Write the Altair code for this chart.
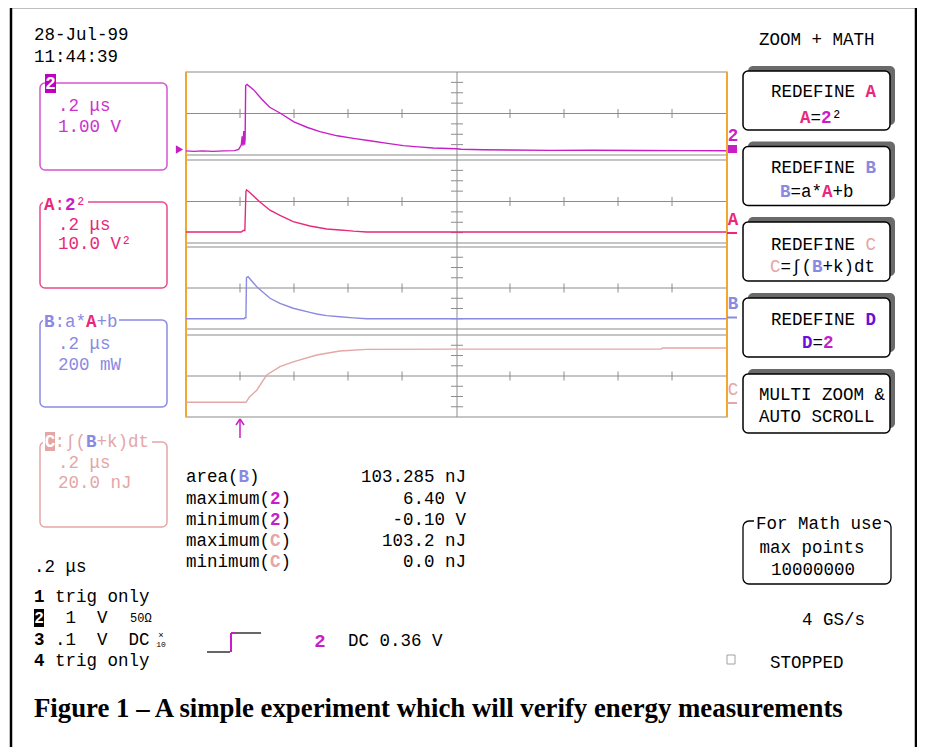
import altair as alt
import pandas as pd

# ---------------- data ----------------
# channel 2 (volts) vs time (µs)
ch2_t = [0.00, 0.03, 0.06, 0.10, 0.14, 0.18, 0.195, 0.200, 0.205, 0.208, 0.211, 0.214, 0.217, 0.219,
         0.221, 0.226, 0.25, 0.28, 0.31, 0.348, 0.40, 0.45, 0.496, 0.56, 0.62, 0.681, 0.74, 0.805,
         0.86, 0.916, 1.00, 1.02, 1.10, 1.20, 1.35, 1.50, 1.70, 1.85, 2.00]
ch2_v = [0.00, -0.05, 0.00, -0.05, 0.00, 0.02, 0.15, 0.35, 0.60, 1.40, 0.50, 1.90, 0.60, 1.20,
         6.30, 6.40, 5.90, 5.00, 4.20, 3.65, 2.80, 2.25, 1.85, 1.45, 1.20, 0.98, 0.75, 0.50,
         0.38, 0.27, 0.20, 0.15, 0.10, 0.08, 0.05, 0.06, 0.04, 0.02, 0.01]
# A = 2^2 (V^2)
a_t = [0.00, 0.205, 0.212, 0.218, 0.222, 0.224, 0.232, 0.274, 0.311, 0.348, 0.397, 0.459, 0.521,
       0.570, 0.600, 0.620, 0.669, 2.00]
a_v = [0.0, 0.0, 1.5, 1.5, 39.0, 40.5, 39.0, 29.0, 21.0, 16.0, 10.0, 5.8, 2.9,
       1.9, 1.3, 0.8, 0.0, 0.0]
# B = a*A+b (mW)
b_t = [0.00, 0.215, 0.218, 0.222, 0.224, 0.230, 0.262, 0.311, 0.348, 0.397, 0.459, 0.484, 0.521,
       0.570, 0.620, 0.669, 2.00]
b_v = [0, 0, 20, 20, 800, 820, 625, 400, 300, 205, 125, 93, 60, 40, 18, 0, 0]
# C = integral of (B+k) dt (nJ)
c_t = [0.00, 0.222, 0.235, 0.262, 0.299, 0.348, 0.397, 0.484, 0.570, 0.669, 1.00, 1.76, 1.765, 2.00]
c_v = [0, 0, 10, 23, 52, 68, 77, 90, 97.5, 100.7, 101.2, 101.2, 103.2, 103.2]

meas_prefix = ["area(", "maximum(", "minimum(", "maximum(", "minimum("]
meas_symbol = ["B", "2", "2", "C", "C"]
meas_values = ["103.285 nJ", "6.40 V", "-0.10 V", "103.2 nJ", "0.0 nJ"]

# ---------------- styling / layout ----------------
OFF = 8
FS = 17.5
CW = 0.6 * FS
MONO = "Liberation Mono"
SERIF = "Liberation Serif"
NBSP = "\u00a0"

BLACK = "#000000"
WHITE = "#ffffff"
MAG = "#c81ec8"
MAG_T = "#cc33cc"
MAG_BOX = "#d455d4"
PINK = "#e8287a"
PINK_BOX = "#ea4a8e"
LAV = "#8a8ae2"
LPINK = "#e4a6a6"
PURPLE = "#6a10d8"
ORANGE = "#f0a830"
GRAY = "#8c8c8c"
SYMCOL = {"B": LAV, "2": MAG, "C": LPINK}

texts, rects, rules = [], [], []


def T(s, x, y, c=BLACK, fs=FS, bold=False, align="left", font=MONO):
    if font == MONO:
        s = s.replace(" ", NBSP)
    texts.append(dict(s=s, x=x - OFF, y=y - OFF, c=c, fs=fs,
                      b="bold" if bold else "normal", a=align, f=font))


def R(x1, y1, x2, y2, fill="transparent", stroke="transparent", sw=0, r=0):
    rects.append(dict(x=x1 - OFF, y=y1 - OFF, x2=x2 - OFF, y2=y2 - OFF,
                      fill=fill, stroke=stroke, sw=sw, r=r))


def L(x1, y1, x2, y2, c=GRAY, w=1.0):
    rules.append(dict(x=x1 - OFF, y=y1 - OFF, x2=x2 - OFF, y2=y2 - OFF, c=c, w=w))


def seg_line(parts, x, y, fs=FS):
    cw = 0.6 * fs
    i = 0
    for s, c, b in parts:
        lead = len(s) - len(s.lstrip(" "))
        core = s.strip(" ")
        if core:
            T(core, x + (i + lead) * cw, y, c=c, fs=fs, bold=b)
        i += len(s)


# outer frame
L(11, 7, 11, 760, BLACK, 2.5)
L(11, 7, 917, 7, BLACK, 2.5)
L(916, 7, 916, 760, BLACK, 2.5)

# grid
PANELS = [(72, 155), (160, 243), (247, 329), (335, 417)]
GX0, GX1, GXC = 186, 727, 457
for top, bot in PANELS:
    cy = (top + bot) / 2
    R(GX0, top, GX1, bot, stroke=GRAY, sw=1.2)
    L(GX0, cy, GX1, cy)
    for k in range(1, 10):
        if k == 5:
            continue
        xk = GX0 + k * 54
        L(xk, cy - 4.5, xk, cy + 4.5)
    h = (bot - top) / 8
    for k in (1, 2, 3):
        for sg in (-1, 1):
            L(GXC - 6, cy + sg * k * h, GXC + 6, cy + sg * k * h)
L(GXC, 72, GXC, 417)
L(GX0, 72, GX0, 417, ORANGE, 2)
L(GX1, 72, GX1, 417, ORANGE, 2)

# top-left date
T("28-Jul-99", 34, 35)
T("11:44:39", 34, 57)
T("ZOOM + MATH", 759, 40)

# left trace-info boxes
R(40, 83, 167, 170, stroke=MAG_BOX, sw=1.5, r=5)
R(45, 74, 56, 93, fill="#c000c0")
T("2", 50.5, 83.5, WHITE, bold=True, align="center")
T(".2 μs", 58, 106, MAG_T)
T("1.00 V", 58, 127, MAG_T)

R(40, 202, 167, 288, stroke=PINK_BOX, sw=1.5, r=5)
R(43, 195, 88, 210, fill=WHITE)
seg_line([("A", PINK, True), (":", PINK, False), ("2", MAG, True), ("²", PINK, False)], 44, 205)
T(".2 μs", 58, 225, PINK)
T("10.0 V²", 58, 244, PINK)

R(40, 320, 167, 407, stroke=LAV, sw=1.5, r=5)
R(43, 313, 119, 330, fill=WHITE)
seg_line([("B", LAV, True), (":a*", LAV, False), ("A", PINK, True), ("+b", LAV, False)], 44, 322)
T(".2 μs", 58, 344, LAV)
T("200 mW", 58, 365, LAV)

R(40, 442, 167, 527, stroke=LPINK, sw=1.5, r=5)
R(43, 433, 152, 451, fill=WHITE)
R(45, 432, 55, 451, fill=LPINK)
T("C", 50, 442, WHITE, bold=True, align="center")
seg_line([(":∫(", LPINK, False), ("B", LAV, True), ("+k)dt", LPINK, False)], 44 + CW, 442)
T(".2 μs", 58, 463, LPINK)
T("20.0 nJ", 58, 483, LPINK)

# right channel markers
T("2", 733, 136, MAG, bold=True, align="center")
R(728, 145, 737, 153, fill=MAG)
T("A", 733, 220, PINK, bold=True, align="center")
L(727, 233, 737, 233, PINK, 2)
T("B", 733, 304, LAV, bold=True, align="center")
L(727, 317.5, 737, 317.5, LAV, 2)
T("C", 733, 390, LPINK, align="center")
L(727, 403, 737, 403, LPINK, 2)

# trigger arrow
L(240, 419, 240, 438, MAG, 1.5)
L(240, 419, 236, 425, MAG, 1.5)
L(240, 419, 244, 425, MAG, 1.5)

# buttons
for ft in [71, 146.5, 222, 298, 374]:
    R(748, ft - 5, 895, ft + 54, fill="#6a6a6a", r=5)
    R(743, ft, 890, ft + 59, fill=WHITE, stroke=BLACK, sw=1.5, r=5)
seg_line([("REDEFINE ", BLACK, False), ("A", PINK, True)], 771, 92)
seg_line([("A", PINK, True), ("=", BLACK, False), ("2", MAG, True), ("²", BLACK, False)], 800, 117.5)
seg_line([("REDEFINE ", BLACK, False), ("B", LAV, True)], 771, 168)
seg_line([("B", LAV, True), ("=a*", BLACK, False), ("A", PINK, True), ("+b", BLACK, False)], 780, 191.5)
seg_line([("REDEFINE ", BLACK, False), ("C", LPINK, False)], 771, 245)
seg_line([("C", LPINK, False), ("=∫(", BLACK, False), ("B", LAV, True), ("+k)dt", BLACK, False)], 770, 267)
seg_line([("REDEFINE ", BLACK, False), ("D", PURPLE, True)], 771, 320)
seg_line([("D", PURPLE, True), ("=", BLACK, False), ("2", MAG, True)], 802, 343)
T("MULTI ZOOM &", 759, 395)
T("AUTO SCROLL", 759, 417)

# measurements
for i, y in enumerate([477, 499, 520, 541, 562]):
    seg_line([(meas_prefix[i], BLACK, False), (meas_symbol[i], SYMCOL[meas_symbol[i]], True),
              (")", BLACK, False)], 186, y)
    T(meas_values[i], 466, y, align="right")

# bottom-left status
T(".2 μs", 34, 567)
seg_line([("1", BLACK, True), (" trig only", BLACK, False)], 34, 597)
R(34, 609, 44, 627, fill=BLACK)
T("2", 39, 618, WHITE, fs=16, bold=True, align="center")
seg_line([("   1  V", BLACK, False)], 34, 618)
T("50Ω", 130, 618, fs=12)
seg_line([("3", BLACK, True), (" .1  V  DC", BLACK, False)], 34, 640)
T("×", 161, 635, fs=9, align="center")
T("10", 161, 645, fs=8, align="center")
seg_line([("4", BLACK, True), (" trig only", BLACK, False)], 34, 661)

# trigger slope symbol
L(207, 652, 230, 652, BLACK, 1.2)
L(231, 652, 231, 633, MAG, 2)
L(231, 633, 236, 633, MAG, 2)
L(236, 633, 261, 633, BLACK, 1.2)
T("2", 320, 641, MAG, fs=19, bold=True, align="center")
T("DC 0.36 V", 348, 641)

# bottom-right
R(743, 521, 891, 584, stroke=BLACK, sw=1.3, r=6)
R(754, 514, 884, 531, fill=WHITE)
T("For Math use", 756, 524)
T("max points", 812, 548, align="center")
T("10000000", 813, 570, align="center")
T("4 GS/s", 802, 620)
R(727, 655, 735, 664, stroke="#a0a0a0", sw=1)
T("STOPPED", 770, 663)

# caption
T("Figure 1 – A simple experiment which will verify energy measurements", 34, 709,
  BLACK, fs=26.8, bold=True, font=SERIF)

# ---------------- build layers ----------------
layers = []
runs = []
for r in rects:
    if runs and runs[-1][0] == r["r"]:
        runs[-1][1].append(r)
    else:
        runs.append((r["r"], [r]))
for rad, items in runs:
    layers.append(alt.Chart(pd.DataFrame(items)).mark_rect(cornerRadius=rad).encode(
        x=alt.X("x:Q", scale=None, axis=None), x2="x2:Q",
        y=alt.Y("y:Q", scale=None, axis=None), y2="y2:Q",
        fill=alt.Fill("fill:N", scale=None), stroke=alt.Stroke("stroke:N", scale=None),
        strokeWidth=alt.StrokeWidth("sw:Q", scale=None)))

layers.append(alt.Chart(pd.DataFrame(rules)).mark_rule().encode(
    x=alt.X("x:Q", scale=None, axis=None), x2="x2:Q",
    y=alt.Y("y:Q", scale=None, axis=None), y2="y2:Q",
    color=alt.Color("c:N", scale=None), strokeWidth=alt.StrokeWidth("w:Q", scale=None)))

layers.append(alt.Chart(pd.DataFrame({"k": [0]})).mark_point(
    shape="triangle-right", filled=True, size=70, color=MAG, opacity=1).encode(
    x=alt.value(179.5 - OFF), y=alt.value(149.5 - OFF)))


def trace(t, v, dom, top, bot, color, name):
    df = pd.DataFrame({"t": t, name: v})
    return alt.Chart(df).mark_line(color=color, strokeWidth=1.4).encode(
        x=alt.X("t:Q", scale=alt.Scale(domain=[0, 2], range=[GX0 - OFF, GX0 - OFF + 540],
                                       nice=False, zero=False), axis=None),
        y=alt.Y(f"{name}:Q", scale=alt.Scale(domain=dom, range=[bot - OFF, top - OFF],
                                             nice=False, zero=False), axis=None))


layers.append(trace(ch2_t, ch2_v, [-0.4, 7.6], 72, 155, MAG, "volts"))
layers.append(trace(a_t, a_v, [-10.6, 69.4], 160, 243, PINK, "vsq"))
layers.append(trace(b_t, b_v, [-200, 1400], 247, 329, LAV, "mw"))
layers.append(trace(c_t, c_v, [-28, 128], 335, 417, LPINK, "nj"))

tdf = pd.DataFrame(texts)
for (b, a, f), g in tdf.groupby(["b", "a", "f"]):
    layers.append(alt.Chart(g).mark_text(font=f, fontWeight=b, align=a, baseline="middle").encode(
        x=alt.X("x:Q", scale=None, axis=None), y=alt.Y("y:Q", scale=None, axis=None),
        text="s:N", color=alt.Color("c:N", scale=None), size=alt.Size("fs:Q", scale=None)))

chart = alt.layer(*layers).resolve_scale(y="independent").properties(
    width=909, height=739, autosize=alt.AutoSizeParams(type="none"), padding=0, background="white"
).configure_view(stroke=None)

chart.save("out.html", embed_options={"renderer": "svg", "actions": False})
